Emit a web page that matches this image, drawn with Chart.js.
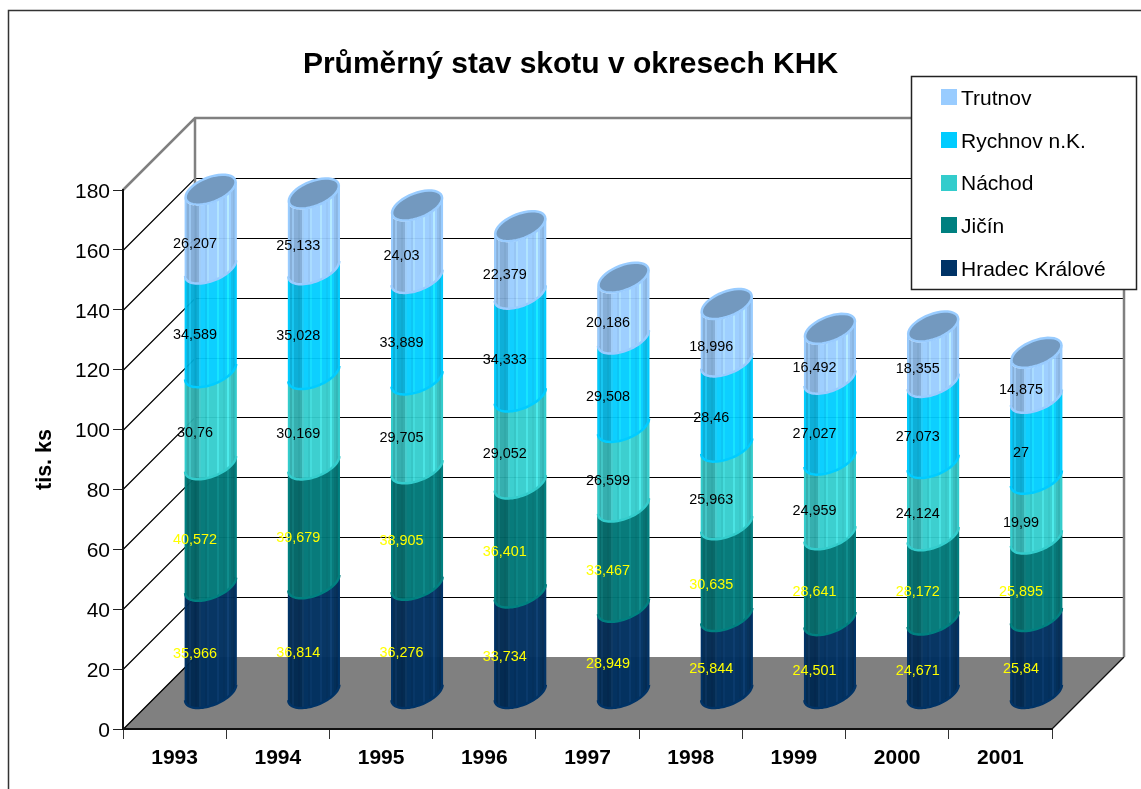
<!DOCTYPE html>
<html><head><meta charset="utf-8">
<style>html,body{margin:0;padding:0;background:#fff;overflow:hidden}canvas{display:block}</style>
<script src="https://cdn.jsdelivr.net/npm/chart.js@4"></script>
</head><body><canvas id="c" width="1141" height="789"></canvas>
<script>
const years = ['1993','1994','1995','1996','1997','1998','1999','2000','2001'];
const hradec  = [35.966,36.814,36.276,33.734,28.949,25.844,24.501,24.671,25.84];
const jicin   = [40.572,39.679,38.905,36.401,33.467,30.635,28.641,28.172,25.895];
const nachod  = [30.76,30.169,29.705,29.052,26.599,25.963,24.959,24.124,19.99];
const rychnov = [34.589,35.028,33.889,34.333,29.508,28.46,27.027,27.073,27];
const trutnov = [26.207,25.133,24.03,22.379,20.186,18.996,16.492,18.355,14.875];
const seriesNames = ['Hradec Králové','Jičín','Náchod','Rychnov n.K.','Trutnov'];
const seriesValues = [hradec,jicin,nachod,rychnov,trutnov];
const seriesColors = ['#003366','#008080','#33CCCC','#00CCFF','#99CCFF'];
const labelColors = ['#FFFF00','#FFFF00','#000000','#000000','#000000'];
const chartTitle = 'Průměrný stav skotu v okresech KHK';
const yTitle = 'tis. ks';

const DEPTH = 72, SHIFT = 36, TILT = 16, SKEW = 0.5, FONT = '"Liberation Sans", Arial, sans-serif';
const stripeDelta = [0,0,.1,0,0,-.03,0,.13,0,0,-.04,.06,0,0];

function rgb(h){return [1,3,5].map(i=>parseInt(h.substr(i,2),16));}
function shade(h,k,add){const c=rgb(h);return 'rgb('+c.map(v=>Math.max(0,Math.min(255,Math.round(v*k+add)))).join(',')+')';}
function arc(ctx,cx,cy,R,d,s0,s1,first){
  const phi=Math.asin(SKEW),n=40;
  for(let i=0;i<=n;i++){
    const s=s0+(s1-s0)*i/n,x=cx+R*Math.cos(s),y=cy-d*Math.sin(s+phi);
    if(i===0&&first)ctx.moveTo(x,y);else ctx.lineTo(x,y);
  }
}
const stage = {
  id:'stage',
  afterLayout(chart){
    const t=chart.titleBlock; t.left=0; t.right=chart.width; t.width=chart.width;
  },
  beforeDraw(chart){
    const {ctx,scales:{x,y},chartArea:a}=chart;
    // nudge the value tick labels to sit on their tick marks
    if(!y._nudged){y.getLabelItems().forEach(it=>{it.options.translation[1]+=2;});y._nudged=true;}
    ctx.save();
    ctx.fillStyle='#fff';ctx.fillRect(0,0,chart.width,chart.height);
    // sheet border
    ctx.strokeStyle='#333';ctx.lineWidth=1.5;
    ctx.beginPath();ctx.moveTo(8.5,chart.height+2);ctx.lineTo(8.5,10.5);ctx.lineTo(chart.width+2,10.5);ctx.stroke();
    // floor
    const y0=y.getPixelForValue(0),yt=y.getPixelForValue(180);
    ctx.fillStyle='#808080';ctx.beginPath();
    ctx.moveTo(a.left,y0);ctx.lineTo(a.right,y0);ctx.lineTo(a.right+DEPTH,y0-DEPTH);ctx.lineTo(a.left+DEPTH,y0-DEPTH);ctx.closePath();ctx.fill();
    // gridlines
    ctx.strokeStyle='#000';ctx.lineWidth=1.2;
    y.ticks.forEach(t=>{
      const p=Math.round(y.getPixelForValue(t.value))+.5;
      ctx.beginPath();
      ctx.moveTo(a.left,p);ctx.lineTo(a.left+DEPTH,p-DEPTH);
      if(t.value>0&&t.value<180){ctx.lineTo(a.right+DEPTH,p-DEPTH);}
      if(t.value<180)ctx.stroke();
    });
    ctx.strokeStyle='#111';ctx.beginPath();ctx.moveTo(a.right,y0);ctx.lineTo(a.right+DEPTH,y0-DEPTH);ctx.stroke();
    // walls frame
    ctx.strokeStyle='#808080';ctx.lineWidth=2.5;ctx.beginPath();
    ctx.moveTo(a.left,yt);ctx.lineTo(a.left+DEPTH,yt-DEPTH);ctx.lineTo(a.right+DEPTH,yt-DEPTH);ctx.lineTo(a.right+DEPTH,y0-DEPTH);
    ctx.moveTo(a.left+DEPTH,yt-DEPTH);ctx.lineTo(a.left+DEPTH,y0-DEPTH);ctx.stroke();
    // legend
    const lx=911.5,ly=76.5,lw=225,lh=213;
    ctx.fillStyle='#fff';ctx.fillRect(lx,ly,lw,lh);
    ctx.strokeStyle='#222';ctx.lineWidth=1.5;ctx.strokeRect(lx,ly,lw,lh);
    ctx.font='21px '+FONT;ctx.textBaseline='middle';ctx.textAlign='left';
    for(let i=0;i<seriesNames.length;i++){
      const k=seriesNames.length-1-i, yy=97+i*42.75;
      ctx.fillStyle=seriesColors[k];ctx.fillRect(941,Math.round(yy-8),16,16);
      ctx.fillStyle='#000';ctx.fillText(seriesNames[k],961,yy+2);
    }
    ctx.restore();
  },
  beforeDatasetDraw(){return false;},
  afterDatasetsDraw(chart){
    const ctx=chart.ctx, n=chart.data.datasets.length;
    for(let c=0;c<chart.data.labels.length;c++){
      for(let k=0;k<n;k++){
        const el=chart.getDatasetMeta(k).data[c], col=seriesColors[k];
        const R=el.width/2,cx=el.x+SHIFT,top=el.y-SHIFT,bot=el.base-SHIFT,off=TILT*SKEW;
        const dark=k<2;
        ctx.save();
        ctx.globalAlpha=dark?.97:.95;
        ctx.beginPath();
        arc(ctx,cx,bot,R,TILT,Math.PI,2*Math.PI,true);
        arc(ctx,cx,top,R,TILT,2*Math.PI,Math.PI,false);
        ctx.closePath();ctx.clip();
        const x0=Math.round(cx-R),W=Math.round(2*R);
        for(let i=0;i<W;i+=2){
          const f=i/W, j=Math.floor(i/2)%stripeDelta.length;
          const base=(f<.3? .84 : f<.86? 1 : .92)*(dark?.93:1);
          const sd=stripeDelta[j];
          ctx.fillStyle=shade(col,base+sd*.6,sd*(dark?60:110));
          ctx.fillRect(x0+i,top-40,2,bot-top+90);
        }
        ctx.restore();
        ctx.save();
        ctx.strokeStyle=col;ctx.lineWidth=2;
        ctx.beginPath();
        ctx.moveTo(cx-R+1,top+off);ctx.lineTo(cx-R+1,bot+off);
        ctx.moveTo(cx+R-1,top-off);ctx.lineTo(cx+R-1,bot-off);
        ctx.stroke();
        ctx.lineWidth=2.5;
        ctx.beginPath();arc(ctx,cx,bot,R-.5,TILT-.5,Math.PI,2*Math.PI,true);ctx.stroke();
        if(k===n-1){
          ctx.beginPath();arc(ctx,cx,top,R-1,TILT-1,0,2*Math.PI,true);ctx.closePath();
          ctx.fillStyle=shade(col,.75,0);ctx.fill();ctx.stroke();
        }
        ctx.restore();
      }
    }
    ctx.save();
    ctx.font='14.4px '+FONT;ctx.textAlign='center';ctx.textBaseline='middle';
    for(let c=0;c<chart.data.labels.length;c++){
      for(let k=0;k<n;k++){
        const el=chart.getDatasetMeta(k).data[c];
        const v=chart.data.datasets[k].data[c];
        ctx.fillStyle=labelColors[k];
        ctx.fillText(String(v).replace('.',','),el.x+SHIFT-15.5,(el.y+el.base)/2-SHIFT+15);
      }
    }
    ctx.restore();
  }
};
new Chart(document.getElementById('c'),{
  type:'bar',
  data:{labels:years,datasets:seriesNames.map((name,i)=>({
    label:name,data:seriesValues[i],backgroundColor:seriesColors[i],borderColor:seriesColors[i],
    barPercentage:1,categoryPercentage:.504
  }))},
  plugins:[stage],
  options:{
    responsive:false,animation:false,
    layout:{padding:{left:0,top:0,right:89,bottom:0}},
    plugins:{
      legend:{display:false},tooltip:{enabled:false},
      title:{display:true,text:chartTitle,color:'#000',font:{family:FONT,size:30,weight:'bold',lineHeight:1.2},padding:{top:47,bottom:107}}
    },
    scales:{
      x:{stacked:true,
        afterFit(s){s.height=60;},
        grid:{drawOnChartArea:false,color:'#333',lineWidth:1,tickLength:10,tickColor:'#333'},
        border:{color:'#111',width:2},
        ticks:{color:'#000',font:{family:FONT,size:21,weight:'bold'},padding:7,maxRotation:0}
      },
      y:{stacked:true,min:0,max:180,
        afterFit(s){s.width=123;},
        grid:{drawOnChartArea:false,color:'#222',lineWidth:1,tickLength:10},
        border:{color:'#111',width:2},
        ticks:{stepSize:20,color:'#000',font:{family:FONT,size:21},padding:3},
        title:{display:true,text:yTitle,color:'#000',font:{family:FONT,size:21.5,weight:'bold'},padding:{top:32,bottom:0}}
      }
    }
  }
});
</script></body></html>
